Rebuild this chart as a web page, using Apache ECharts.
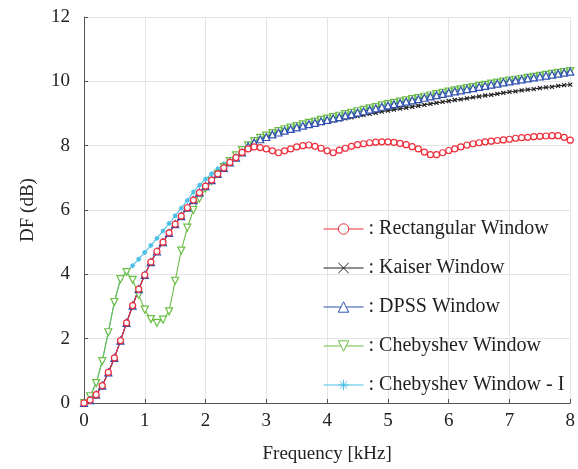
<!DOCTYPE html>
<html>
<head>
<meta charset="utf-8">
<script src="https://cdn.jsdelivr.net/npm/echarts@6/dist/echarts.min.js"></script>
<style>
html, body { margin: 0; padding: 0; background: #fff; }
#main { width: 578px; height: 469px; }
</style>
</head>
<body>
<div id="main"></div>
<script>
var freq = [0.0,0.1,0.2,0.3,0.4,0.5,0.6,0.7,0.8,0.9,
    1.0,1.1,1.2,1.3,1.4,1.5,1.6,1.7,1.8,1.9,
    2.0,2.1,2.2,2.3,2.4,2.5,2.6,2.7,2.8,2.9,
    3.0,3.1,3.2,3.3,3.4,3.5,3.6,3.7,3.8,3.9,
    4.0,4.1,4.2,4.3,4.4,4.5,4.6,4.7,4.8,4.9,
    5.0,5.1,5.2,5.3,5.4,5.5,5.6,5.7,5.8,5.9,
    6.0,6.1,6.2,6.3,6.4,6.5,6.6,6.7,6.8,6.9,
    7.0,7.1,7.2,7.3,7.4,7.5,7.6,7.7,7.8,7.9,8.0];

var rectWin = [0.00,0.09,0.26,0.54,0.95,1.40,1.94,2.49,3.03,3.54,
    3.98,4.38,4.71,5.00,5.29,5.56,5.81,6.07,6.31,6.54,
    6.74,6.93,7.12,7.31,7.48,7.63,7.79,7.90,7.96,7.94,
    7.90,7.84,7.78,7.84,7.90,7.96,8.00,8.02,7.98,7.92,
    7.84,7.78,7.86,7.92,7.98,8.03,8.06,8.09,8.11,8.12,
    8.12,8.10,8.07,8.03,7.97,7.90,7.80,7.72,7.72,7.78,
    7.85,7.90,7.96,8.02,8.06,8.09,8.12,8.14,8.16,8.18,
    8.20,8.23,8.25,8.26,8.28,8.29,8.30,8.31,8.31,8.26,8.17];

var kaiserWin = [0.00,0.09,0.26,0.54,0.95,1.40,1.94,2.49,3.03,3.54,
    3.98,4.38,4.71,5.00,5.29,5.56,5.81,6.07,6.31,6.54,
    6.74,6.93,7.12,7.31,7.48,7.63,7.79,7.98,8.10,8.20,
    8.27,8.35,8.41,8.47,8.51,8.55,8.59,8.63,8.66,8.70,
    8.74,8.78,8.81,8.85,8.88,8.92,8.95,8.99,9.02,9.06,
    9.09,9.12,9.15,9.18,9.21,9.24,9.27,9.30,9.33,9.36,
    9.39,9.42,9.44,9.47,9.50,9.53,9.56,9.58,9.61,9.64,
    9.67,9.69,9.72,9.74,9.76,9.79,9.81,9.83,9.86,9.88,9.90];

var dpssWin = [0.00,0.09,0.26,0.54,0.95,1.40,1.94,2.49,3.03,3.54,
    3.98,4.38,4.71,5.00,5.29,5.56,5.81,6.07,6.31,6.54,
    6.74,6.93,7.12,7.31,7.48,7.63,7.79,7.98,8.10,8.20,
    8.27,8.35,8.41,8.47,8.52,8.57,8.62,8.67,8.71,8.76,
    8.80,8.85,8.89,8.94,8.98,9.03,9.07,9.12,9.16,9.21,
    9.25,9.29,9.33,9.37,9.41,9.45,9.49,9.53,9.57,9.61,
    9.65,9.69,9.72,9.76,9.79,9.83,9.86,9.90,9.93,9.97,
    10.00,10.03,10.06,10.09,10.12,10.15,10.18,10.21,10.24,10.27,10.30];

var chebWin = [0.00,0.21,0.62,1.30,2.20,3.14,3.85,4.07,3.83,3.36,
    2.90,2.61,2.49,2.59,2.85,3.80,4.74,5.45,6.00,6.36,
    6.67,6.90,7.12,7.33,7.52,7.70,7.86,8.01,8.14,8.24,
    8.31,8.39,8.45,8.51,8.56,8.61,8.66,8.71,8.75,8.80,
    8.84,8.89,8.93,8.98,9.02,9.07,9.11,9.16,9.20,9.25,
    9.29,9.33,9.37,9.41,9.45,9.48,9.52,9.56,9.60,9.64,
    9.68,9.72,9.75,9.79,9.82,9.86,9.89,9.93,9.96,9.99,
    10.02,10.05,10.08,10.11,10.14,10.17,10.20,10.23,10.26,10.29,10.32];

var chebIWin = [0.00,0.21,0.62,1.30,2.20,3.14,3.85,4.07,4.27,4.47,
    4.68,4.90,5.12,5.35,5.58,5.82,6.06,6.30,6.56,6.77,
    6.96,7.13,7.28,7.43,7.57,7.71,7.86,8.01,8.14,8.24,
    8.31,8.39,8.45,8.51,8.56,8.61,8.66,8.71,8.75,8.80,
    8.84,8.89,8.93,8.98,9.02,9.07,9.11,9.16,9.20,9.25,
    9.29,9.33,9.37,9.41,9.45,9.48,9.52,9.56,9.60,9.64,
    9.68,9.72,9.75,9.79,9.82,9.86,9.89,9.93,9.96,9.99,
    10.02,10.05,10.08,10.11,10.14,10.17,10.20,10.23,10.26,10.29,10.32];

var legendNames = ['Rectangular Window', 'Kaiser Window', 'DPSS Window',
    'Chebyshev Window', 'Chebyshev Window - I'];

function pairs(ys) {
    return freq.map(function (x, i) { return [x, ys[i]]; });
}

// thin x and asterisk markers, drawn as strokes
var xMark = 'path://M0,0L10,10M10,0L0,10';
var starMark = 'path://M5,0L5,10M0,5L10,5M1.5,1.5L8.5,8.5M8.5,1.5L1.5,8.5';
var font = 'Liberation Serif';

// hollow markers: white fill, coloured 1px outline
function lineSeries(name, ys, color, symbol, size, hollow, extra) {
    var s = {
        name: name,
        type: 'line',
        data: pairs(ys),
        symbol: symbol,
        symbolSize: size,
        showAllSymbol: true,
        lineStyle: { color: color, width: 1.1 },
        itemStyle: { color: hollow ? '#fff' : color, borderColor: color, borderWidth: 1.2 },
        emphasis: { disabled: true }
    };
    for (var k in extra) s[k] = extra[k];
    return s;
}

var myChart = echarts.init(document.getElementById('main'));
option = {
    animation: false,
    backgroundColor: '#fff',
    textStyle: { fontFamily: font },
    grid: { left: 84, right: 4, top: 17, bottom: 66 },
    legend: {
        data: legendNames,
        orient: 'vertical',
        left: 318,
        top: 214,
        itemWidth: 40,
        itemHeight: 13,
        itemGap: 19,
        formatter: ': {name}',
        itemStyle: { borderWidth: 1 },
        lineStyle: { width: 1.1 },
        textStyle: { fontFamily: font, fontSize: 20, color: '#222' },
        selectedMode: false
    },
    xAxis: {
        type: 'value',
        min: 0, max: 8, interval: 1,
        name: 'Frequency [kHz]',
        nameLocation: 'middle',
        nameGap: 42,
        nameTextStyle: { fontFamily: font, fontSize: 19, color: '#222' },
        axisLine: { lineStyle: { color: '#555', width: 1 } },
        axisTick: { inside: true, length: 4, lineStyle: { color: '#555' } },
        axisLabel: { fontFamily: font, fontSize: 19, color: '#222', margin: 9 },
        splitLine: { show: true, lineStyle: { color: '#e4e4e4', width: 1 } }
    },
    yAxis: {
        type: 'value',
        min: 0, max: 12, interval: 2,
        name: 'DF (dB)',
        nameLocation: 'middle',
        nameGap: 46,
        nameTextStyle: { fontFamily: font, fontSize: 19, color: '#222' },
        axisLine: { show: true, lineStyle: { color: '#555', width: 1 } },
        axisTick: { show: true, inside: true, length: 4, lineStyle: { color: '#555' } },
        axisLabel: { fontFamily: font, fontSize: 19, color: '#222', margin: 14 },
        splitLine: { show: true, lineStyle: { color: '#e4e4e4', width: 1 } }
    },
    series: [
        lineSeries('Chebyshev Window - I', chebIWin, '#4cbfe6', starMark, 5, false, {}),
        lineSeries('Kaiser Window', kaiserWin, '#222222', xMark, 4, false, {}),
        lineSeries('Chebyshev Window', chebWin, '#6cbd45', 'triangle', 7, true, { symbolRotate: 180 }),
        lineSeries('DPSS Window', dpssWin, '#2f50b0', 'triangle', 7, true, {}),
        lineSeries('Rectangular Window', rectWin, '#ee2d3a', 'circle', 6, true, {})
    ]
};
myChart.setOption(option);
</script>
</body>
</html>
